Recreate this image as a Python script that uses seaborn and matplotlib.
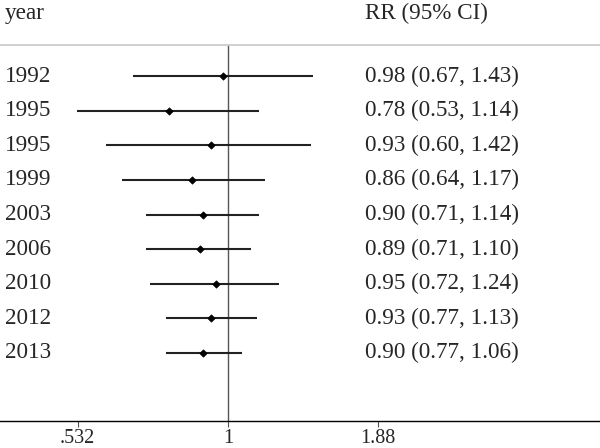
import numpy as np
import pandas as pd
import matplotlib
matplotlib.use("Agg")
import matplotlib.pyplot as plt
import matplotlib.transforms as mtransforms
import seaborn as sns

# dados do forest plot
years = ["1992", "1995", "1995", "1999", "2003", "2006", "2010", "2012", "2013"]
rr = [0.98, 0.78, 0.93, 0.86, 0.90, 0.89, 0.95, 0.93, 0.90]
lo = [0.67, 0.53, 0.60, 0.64, 0.71, 0.71, 0.72, 0.77, 0.77]
hi = [1.43, 1.14, 1.42, 1.17, 1.14, 1.10, 1.24, 1.13, 1.06]
tick_vals = [0.532, 1, 1.88]
tick_labels = [".532", "1", "1.88"]

df = pd.DataFrame({"year": years, "rr": rr, "lo": lo, "hi": hi})
df["row"] = np.arange(len(df))

sns.set_style("white")
plt.rcParams["font.family"] = ["Liberation Serif", "DejaVu Serif"]

fig = plt.figure(figsize=(6, 4.48), dpi=100)
ax = fig.add_axes([0, 0.06, 1, 0.94])

ax.set_xscale("log")
ax.set_xlim(0.384, 4.77)
ax.set_ylim(9.97, -2.2)

# intervalos de confiança
ax.hlines(df["row"], df["lo"], df["hi"], color="#222222", lw=1.5, zorder=2)
sns.scatterplot(data=df, x="rr", y="row", marker="D", s=14, color="black",
                edgecolor="black", linewidth=0.5, ax=ax, zorder=3, legend=False)

# linha de referência e separador
ax.vlines(1, -0.9, 9.97, color="#555555", lw=1.0, zorder=1)
ax.axhline(-0.9, color="#c8c8c8", lw=1.2)

trans = mtransforms.blended_transform_factory(ax.transAxes, ax.transData)
fs = 16.7
ax.text(0.008, -1.8, "year", transform=trans, fontsize=fs, va="center", ha="left")
ax.text(0.608, -1.8, "RR (95% CI)", transform=trans, fontsize=fs, va="center", ha="left")
for i, r in df.iterrows():
    ax.text(0.008, r["row"], r["year"], transform=trans, fontsize=fs, va="center", ha="left")
    ax.text(0.608, r["row"], f"{r['rr']:.2f} ({r['lo']:.2f}, {r['hi']:.2f})",
            transform=trans, fontsize=fs, va="center", ha="left")

ax.set_xticks(tick_vals)
ax.set_xticklabels(tick_labels, fontsize=14.5)
ax.minorticks_off()
ax.tick_params(axis="x", direction="out", length=4, width=0.8, color="#555555", pad=1.5, bottom=True)
ax.set_yticks([])
ax.set_xlabel("")
ax.set_ylabel("")
for s in ["left", "top", "right"]:
    ax.spines[s].set_visible(False)
ax.spines["bottom"].set_color("black")
ax.spines["bottom"].set_linewidth(1.0)

fig.savefig("out.png", dpi=100)
